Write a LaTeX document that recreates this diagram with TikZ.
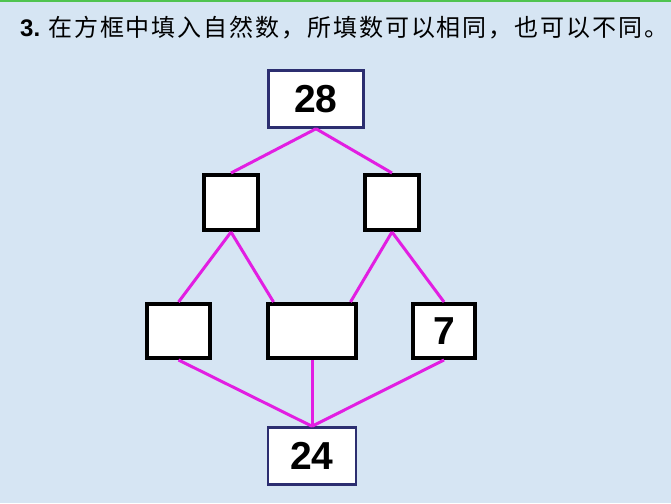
\documentclass[tikz,border=0pt]{standalone}
\usepackage{fontspec}
\setmainfont{Liberation Sans}
\newfontfamily\cjk[LetterSpace=8]{Noto Sans CJK SC}
\definecolor{bgblue}{RGB}{214,229,243}
\definecolor{topgreen}{RGB}{80,196,80}
\definecolor{navy}{RGB}{44,46,112}
\definecolor{linkpink}{RGB}{226,30,226}
\tikzset{
  numbox/.style={draw=navy,line width=2.5pt,fill=white,inner sep=0pt,
    minimum width=88pt,minimum height=57pt,
    font=\fontsize{39}{39}\selectfont\bfseries},
  blank/.style={draw=black,line width=4pt,fill=white,inner sep=0pt,
    minimum width=#1,minimum height=54pt,
    font=\fontsize{39}{39}\selectfont\bfseries},
  link/.style={draw=linkpink,line width=3pt}
}
\begin{document}
\begin{tikzpicture}[x=1pt,y=-1pt]
  \fill[bgblue] (0,0) rectangle (671,503);
  \fill[topgreen] (0,0) rectangle (671,2);
  \useasboundingbox (0,0) rectangle (671,503);
  % title
  \node[anchor=base west,inner sep=0pt] (title) at (20,37)
    {\fontsize{24}{24}\selectfont\bfseries 3.\hspace{8pt}\mdseries\cjk 在方框中填入自然数，所填数可以相同，也可以不同。};
  % boxes
  \node[numbox,minimum width=95pt] (top) at (316,99) {28};
  \node[blank=54pt,minimum height=55pt] (midL) at (231,202.5) {};
  \node[blank=54pt,minimum height=55pt] (midR) at (392,202.5) {};
  \node[blank=63pt] (botL) at (178.5,331) {};
  \node[blank=88pt] (botM) at (312,331) {};
  \node[blank=62pt] (botR) at (444,331) {7};
  \node[numbox] (bot) at (312,456) {24};
  % links
  \draw[link] (top.south) -- (midL.north);
  \draw[link] (top.south) -- (midR.north);
  \draw[link] (midL.south) -- (botL.north);
  \draw[link] (midL.south) -- (botM.143);
  \draw[link] (midR.south) -- (botM.37);
  \draw[link] (midR.south) -- (botR.north);
  \draw[link] (botL.south) -- (bot.north);
  \draw[link] (botM.south) -- (bot.north);
  \draw[link] (botR.south) -- (bot.north);
\end{tikzpicture}
\end{document}
